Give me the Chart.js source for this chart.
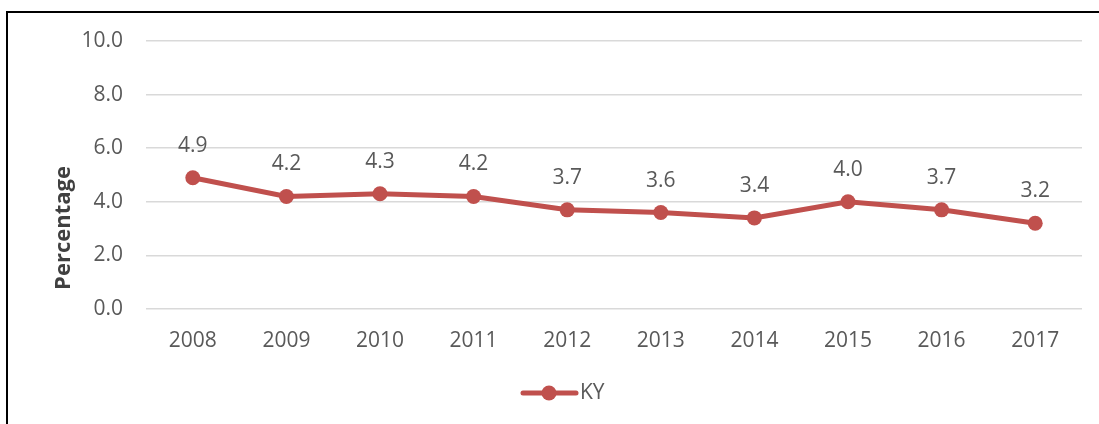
<!DOCTYPE html>
<html>
<head>
<meta charset="utf-8">
<script src="https://cdn.jsdelivr.net/npm/chart.js@4"></script>
<style>
  html, body { margin: 0; padding: 0; background: #fff; overflow: hidden; }
  #wrap { position: relative; width: 1099px; height: 424px; }
  #frame { position: absolute; left: 6px; top: 11px; width: 1200px; height: 500px;
           border-left: 2px solid #000; border-top: 2px solid #000; }
  canvas { position: absolute; left: 0; top: 0; }
</style>
</head>
<body>
<div id="wrap">
  <div id="frame"></div>
  <canvas id="grafico" width="1099" height="424"></canvas>
</div>
<script>
var years = ['2008', '2009', '2010', '2011', '2012', '2013', '2014', '2015', '2016', '2017'];
var kyValues = [4.9, 4.2, 4.3, 4.2, 3.7, 3.6, 3.4, 4.0, 3.7, 3.2];
var yTicks = [0, 2, 4, 6, 8, 10];

var rojo = '#C0504D';
var gris = '#595959';
var fuente = '"Open Sans", sans-serif';

// etiquetas de datos, titulo del eje y leyenda
var extras = {
  id: 'extras',
  afterDatasetsDraw: function(chart) {
    var ctx = chart.ctx;
    var meta = chart.getDatasetMeta(0);
    ctx.save();
    ctx.fillStyle = gris;
    ctx.font = '21px ' + fuente;
    ctx.textAlign = 'center';
    ctx.textBaseline = 'middle';
    meta.data.forEach(function(pt, i) {
      ctx.fillText(kyValues[i].toFixed(1), pt.x, pt.y - 32);
    });

    // titulo eje y
    ctx.save();
    ctx.translate(64, 228);
    ctx.rotate(-Math.PI / 2);
    ctx.font = 'bold 22px ' + fuente;
    ctx.fillStyle = '#404040';
    ctx.fillText('Percentage', 0, 0);
    ctx.restore();

    // leyenda
    var ly = 393;
    ctx.strokeStyle = rojo;
    ctx.lineWidth = 5;
    ctx.lineCap = 'round';
    ctx.beginPath();
    ctx.moveTo(523, ly);
    ctx.lineTo(576, ly);
    ctx.stroke();
    ctx.fillStyle = rojo;
    ctx.beginPath();
    ctx.arc(549, ly, 7.5, 0, Math.PI * 2);
    ctx.fill();
    ctx.fillStyle = gris;
    ctx.textAlign = 'left';
    ctx.fillText('KY', 580, ly);
    ctx.restore();
  }
};

new Chart(document.getElementById('grafico'), {
  type: 'line',
  data: {
    labels: years,
    datasets: [{
      label: 'KY',
      data: kyValues,
      borderColor: rojo,
      backgroundColor: rojo,
      borderWidth: 5,
      pointRadius: 7.5,
      pointHoverRadius: 7.5,
      pointBorderWidth: 0,
      tension: 0
    }]
  },
  options: {
    responsive: false,
    animation: false,
    layout: { padding: { top: 41, left: 0, right: 17, bottom: 0 } },
    plugins: { legend: { display: false }, tooltip: { enabled: false } },
    scales: {
      x: {
        offset: true,
        grid: { display: false, drawTicks: false },
        border: { display: false },
        ticks: { color: gris, font: { family: fuente, size: 21 }, padding: 19 },
        afterFit: function(s) { s.height = 115; }
      },
      y: {
        min: 0,
        max: 10,
        afterBuildTicks: function(s) { s.ticks = yTicks.map(function(v) { return { value: v }; }); },
        grid: { color: '#D9D9D9', lineWidth: 1.5, drawTicks: false },
        border: { display: false },
        ticks: {
          color: gris,
          font: { family: fuente, size: 21 },
          padding: 23,
          callback: function(v) { return Number(v).toFixed(1); }
        },
        afterFit: function(s) { s.width = 146; }
      }
    }
  },
  plugins: [extras]
});
</script>
</body>
</html>
